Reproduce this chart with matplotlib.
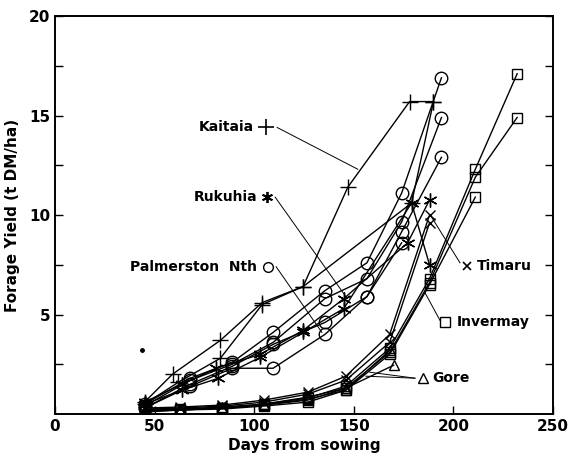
import matplotlib.pyplot as plt
import numpy as np

# ---- data ----
low_days = [45, 63, 84, 105, 127, 146, 168, 188]
inv_days = [45, 63, 84, 105, 127, 146, 168, 188, 211, 232]

timaru_1 = [0.3, 0.35, 0.45, 0.7, 1.1, 1.9, 4.0, 10.0]
timaru_2 = [0.25, 0.3, 0.4, 0.6, 1.0, 1.7, 3.6, 9.6]

invermay_1 = [0.2, 0.25, 0.3, 0.5, 0.8, 1.4, 3.3, 6.8, 12.3, 17.1]
invermay_2 = [0.15, 0.2, 0.3, 0.45, 0.7, 1.3, 3.1, 6.6, 11.9, 14.9]
invermay_3 = [0.1, 0.2, 0.25, 0.4, 0.6, 1.2, 3.0, 6.5, 10.9]

gore_days_1 = [45, 63, 84, 105, 127, 146, 170]
gore_1 = [0.2, 0.25, 0.35, 0.5, 0.85, 1.3, 2.45]
gore_days_2 = [45, 63, 84, 105, 127, 146, 168]
gore_2 = [0.15, 0.2, 0.3, 0.45, 0.75, 1.2, 3.2]

kai_days_1 = [45, 59, 83, 104, 124.5, 147, 178, 190]
kaitaia_1 = [0.6, 2.0, 3.7, 5.6, 6.4, 11.4, 15.7, 15.7]
kai_days_2 = [45, 62, 83, 104, 124.5, 179, 190]
kaitaia_2 = [0.5, 1.6, 2.8, 5.5, 6.4, 10.6, 15.7]

ruk_days = [45, 64, 82, 103, 124.5, 145, 179, 188]
rukuhia_1 = [0.5, 1.2, 1.8, 2.85, 4.1, 5.3, 10.6, 7.5]
ruk_days_2 = [45, 64, 81, 103, 124.5, 145, 177, 188]
rukuhia_2 = [0.6, 1.5, 2.3, 3.0, 4.2, 5.8, 8.6, 10.75]

pn_days = [45, 68, 89, 109.5, 135.5, 156.6, 174, 194]
palm_1 = [0.5, 1.8, 2.6, 4.1, 6.2, 7.6, 11.1, 16.9]
palm_2 = [0.4, 1.7, 2.5, 3.6, 5.8, 6.8, 9.65, 14.9]
palm_3 = [0.3, 1.5, 2.4, 3.5, 4.6, 5.9, 9.15, 12.9]
pn_days_4 = [45, 68, 89, 109.5, 135.5, 156.6, 174]
palm_4 = [0.3, 1.4, 2.3, 2.3, 4.0, 5.9, 8.6]

stray_x, stray_y = [43.7], [3.2]

fig = plt.figure(figsize=(5.71, 4.55), dpi=100)
ax = fig.add_axes([0.0963, 0.0901, 0.8722, 0.8747])

lw = 1.0
ms_kw = dict(color='black', lw=lw, markerfacecolor='none', markeredgecolor='black', markeredgewidth=1.0)
asterisk = (6, 2, 0)

for y in [timaru_1, timaru_2]:
    ax.plot(low_days, y, marker='x', ms=7, **ms_kw)
for y in [invermay_1, invermay_2]:
    ax.plot(inv_days, y, marker='s', ms=7, **ms_kw)
ax.plot(inv_days[:9], invermay_3, marker='s', ms=7, **ms_kw)
ax.plot(gore_days_1, gore_1, marker='^', ms=7, **ms_kw)
ax.plot(gore_days_2, gore_2, marker='^', ms=7, **ms_kw)
ax.plot(kai_days_1, kaitaia_1, marker='+', ms=11, **ms_kw)
ax.plot(kai_days_2, kaitaia_2, marker='+', ms=11, **ms_kw)
ax.plot(ruk_days, rukuhia_1, marker=asterisk, ms=10, **ms_kw)
ax.plot(ruk_days_2, rukuhia_2, marker=asterisk, ms=10, **ms_kw)
for y in [palm_1, palm_2, palm_3]:
    ax.plot(pn_days, y, marker='o', ms=9, **ms_kw)
ax.plot(pn_days_4, palm_4, marker='o', ms=9, **ms_kw)
ax.plot(stray_x, stray_y, 'o', color='black', ms=2.5)

# labels with leader lines
lab_font = dict(fontsize=10, fontweight='bold', va='center')
thin = dict(color='black', lw=0.7)

ax.text(99.9, 14.4, 'Kaitaia', ha='right', **lab_font)
ax.plot([106], [14.4], marker='+', ms=11, color='black', mew=1.2)
ax.plot([111.5, 152], [14.4, 12.3], **thin)

ax.text(101.4, 10.9, 'Rukuhia', ha='right', **lab_font)
ax.plot([106.4], [10.9], marker=asterisk, ms=8, color='black', mew=1.3)
ax.plot([110.5, 146], [10.9, 5.9], **thin)

ax.text(101.4, 7.4, 'Palmerston  Nth', ha='right', **lab_font)
ax.plot([107], [7.4], marker='o', ms=7, mfc='none', color='black')
ax.plot([111, 134], [7.4, 4.1], **thin)

ax.text(211.8, 7.45, 'Timaru', ha='left', **lab_font)
ax.plot([206.8], [7.45], marker='x', ms=6, color='black', mew=1.2)
ax.plot([203.3, 189], [7.6, 9.9], **thin)

ax.text(201.8, 4.6, 'Invermay', ha='left', **lab_font)
ax.plot([195.8], [4.6], marker='s', ms=7, mfc='none', color='black')
ax.plot([193.3, 185.7], [4.7, 6.1], **thin)

ax.text(189.3, 1.8, 'Gore', ha='left', **lab_font)
ax.plot([184.7], [1.8], marker='^', ms=7, mfc='none', color='black')
ax.plot([180.7, 158], [1.8, 2.1], **thin)
ax.plot([180.7, 156], [1.8, 1.9], **thin)

ax.set_xlim(0, 250)
ax.set_ylim(0, 20)
ax.set_xticks([0, 50, 100, 150, 200, 250])
ax.set_yticks([5, 10, 15, 20])
ax.set_yticks([2.5, 7.5, 12.5, 17.5], minor=True)
ax.tick_params(direction='in', length=6, width=1.0, labelsize=11, right=True)
ax.tick_params(which='minor', direction='in', length=6, width=1.0, right=True)
for lab in ax.get_xticklabels() + ax.get_yticklabels():
    lab.set_fontweight('bold')
for s in ax.spines.values():
    s.set_linewidth(1.4)

ax.set_xlabel('Days from sowing', fontsize=11, fontweight='bold', labelpad=3)
ax.set_ylabel('Forage Yield (t DM/ha)', fontsize=11, fontweight='bold', labelpad=6)

fig.savefig('out.png', dpi=100)
